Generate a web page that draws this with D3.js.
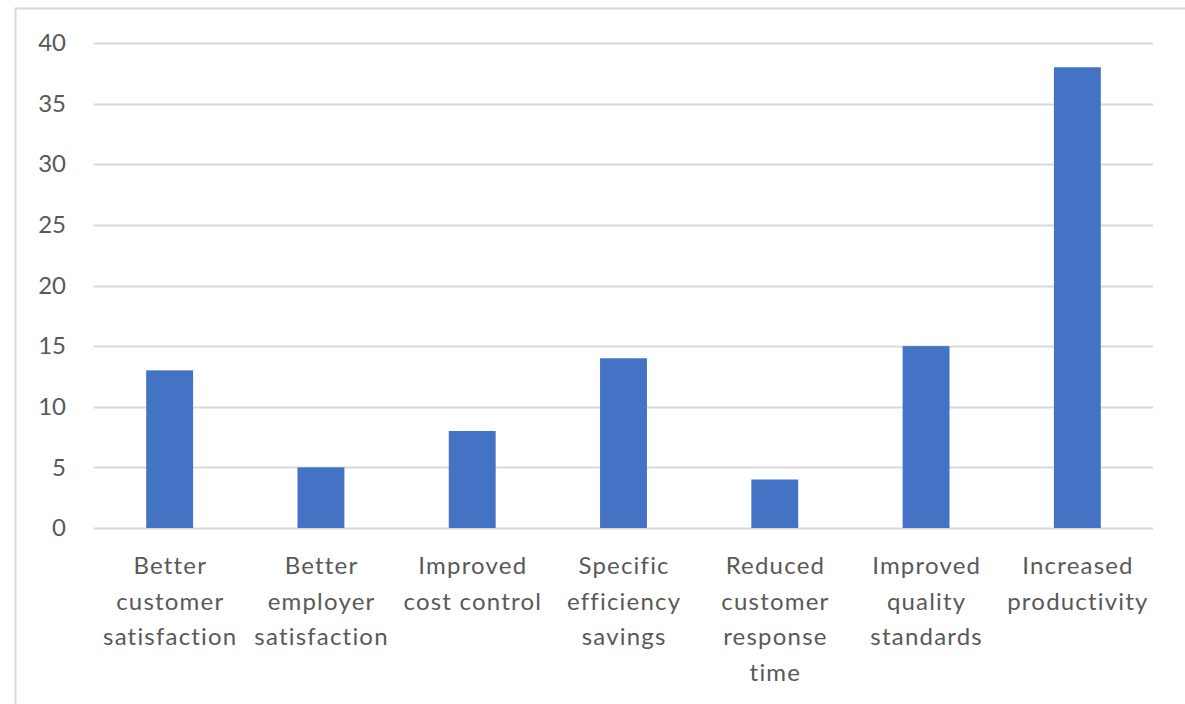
<!DOCTYPE html>
<html>
<head>
<meta charset="utf-8">
<script src="https://cdn.jsdelivr.net/npm/d3@7"></script>
<style>
  html, body { margin: 0; padding: 0; background: #fff; }
  svg { display: block; }
  text { font-family: Lato, "Open Sans", sans-serif; fill: #595959; }
</style>
</head>
<body>
<svg id="chart" width="1185" height="704"></svg>
<script>
// Benefit categories, each split into its wrapped label lines
const categories = [
  "Better customer satisfaction",
  "Better employer satisfaction",
  "Improved cost control",
  "Specific efficiency savings",
  "Reduced customer response time",
  "Improved quality standards",
  "Increased productivity"
];
const labelLines = [
  ["Better", "customer", "satisfaction"],
  ["Better", "employer", "satisfaction"],
  ["Improved", "cost control"],
  ["Specific", "efficiency", "savings"],
  ["Reduced", "customer", "response", "time"],
  ["Improved", "quality", "standards"],
  ["Increased", "productivity"]
];
const values = [13, 5, 8, 14, 4, 15, 38];
const yTicks = [0, 5, 10, 15, 20, 25, 30, 35, 40];

const svg = d3.select("#chart");

// Chart area frame (extends past the right and bottom edges)
svg.append("rect")
  .attr("x", 15.5).attr("y", 8.5)
  .attr("width", 1200).attr("height", 760)
  .attr("fill", "#fff")
  .attr("stroke", "#d9d9d9")
  .attr("stroke-width", 2);

const plot = { left: 94, right: 1153, top: 43, bottom: 528 };

const x = d3.scaleBand()
  .domain(categories)
  .range([plot.left, plot.right])
  .paddingInner(0.69)
  .paddingOuter(0.345);

const y = d3.scaleLinear()
  .domain([0, 40])
  .range([plot.bottom, plot.top]);

// Horizontal gridlines
svg.append("g")
  .selectAll("line")
  .data(yTicks)
  .join("line")
  .attr("x1", plot.left).attr("x2", plot.right)
  .attr("y1", d => Math.round(y(d)) + 0.5)
  .attr("y2", d => Math.round(y(d)) + 0.5)
  .attr("stroke", "#d9d9d9")
  .attr("stroke-width", 2);

// Y axis labels
const yAxis = d3.axisLeft(y).tickValues(yTicks).tickSize(0).tickPadding(0);
const gy = svg.append("g")
  .attr("transform", `translate(66,0)`)
  .call(yAxis);
gy.select(".domain").remove();
gy.selectAll("text")
  .attr("font-size", 24)
  .style("font-family", "Lato, 'Open Sans', sans-serif")
  .attr("fill", "#595959");

// Bars
svg.append("g")
  .selectAll("rect")
  .data(values)
  .join("rect")
  .attr("x", (d, i) => x(categories[i]))
  .attr("y", d => y(d))
  .attr("width", x.bandwidth())
  .attr("height", d => y(0) - y(d))
  .attr("fill", "#4472c4");

// Category labels
const labels = svg.append("g")
  .selectAll("text")
  .data(categories)
  .join("text")
  .attr("text-anchor", "middle")
  .attr("font-size", 24)
  .attr("letter-spacing", 1.2)
  .attr("transform", d => `translate(${x(d) + x.bandwidth() / 2 + 0.6},574)`);

labels.selectAll("tspan")
  .data((d, i) => labelLines[i])
  .join("tspan")
  .attr("x", 0)
  .attr("y", (d, j) => j * 35.5)
  .text(d => d);
</script>
</body>
</html>
